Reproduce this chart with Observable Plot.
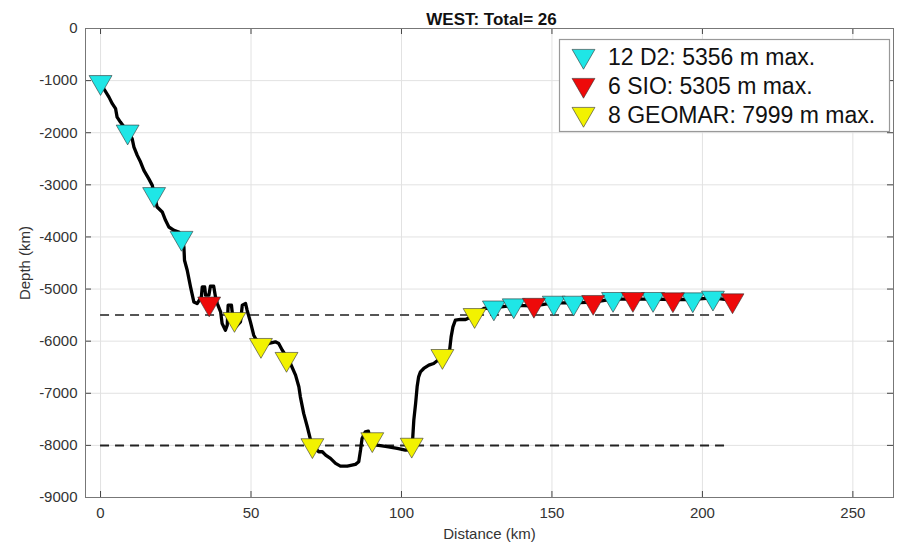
<!DOCTYPE html>
<html><head><meta charset="utf-8">
<script src="https://cdn.jsdelivr.net/npm/d3@7"></script>
<script src="https://cdn.jsdelivr.net/npm/@observablehq/plot@0.6"></script>
<style>body{margin:0;background:#fff;} #chart{width:897px;height:544px;}</style>
</head><body><div id="chart"></div>
<script>
// Bathymetry track (distance km, depth m)
const trackDist = [0,1.1,2.8,3.9,5.0,5.5,6.6,9.0,10.5,11.1,12.2,13.3,14.4,16.0,17.2,17.8,18.8,20.5,21.6,22.7,24.4,26.0,26.9,27.7,27.9,28.8,29.9,31.0,32.1,33.5,33.8,34.6,34.9,36.0,36.5,37.6,38.2,38.8,39.9,40.4,41.5,42.1,42.4,43.5,43.8,44.9,46.5,47.1,48.2,48.7,49.8,50.9,51.5,53.7,55.9,58.1,59.2,60.4,63.1,64.8,65.9,66.4,67.5,68.7,69.8,70.4,72.5,73.7,74.8,76.4,78.1,79.7,82.0,84.7,85.8,86.4,86.9,88.0,89.0,89.4,91.9,95.2,98.6,101.3,103.5,104.1,104.7,105.2,105.7,106.3,107.4,109.1,110.7,113.6,116.0,116.5,117.1,117.9,119.6,121.3,124.3,125.7,127.3,130.7,137.3,144.0,150.6,157.2,163.7,170.3,176.9,183.6,190.2,196.8,203.5,210.0];
const trackDepth = [-1000,-1156,-1317,-1443,-1539,-1700,-1796,-1980,-2114,-2275,-2435,-2563,-2722,-2881,-3010,-3180,-3426,-3521,-3681,-3809,-3872,-3905,-4018,-4192,-4447,-4639,-4959,-5247,-5278,-5151,-4959,-4959,-5118,-5118,-4946,-4946,-5151,-5278,-5438,-5661,-5789,-5693,-5310,-5310,-5469,-5726,-5630,-5310,-5278,-5406,-5630,-5885,-5949,-6109,-6044,-6013,-6044,-6173,-6428,-6652,-6876,-7068,-7386,-7643,-7898,-7999,-8122,-8122,-8186,-8249,-8345,-8397,-8397,-8364,-8314,-8090,-7866,-7739,-7725,-7850,-7994,-8026,-8057,-8090,-8080,-7515,-7195,-6876,-6685,-6589,-6524,-6460,-6428,-6300,-6173,-5918,-5726,-5598,-5584,-5584,-5501,-5439,-5373,-5356,-5315,-5321,-5264,-5264,-5250,-5193,-5193,-5193,-5200,-5200,-5168,-5219];

// Float deployments
const d2Dist = [0, 9.0, 17.8, 26.9, 130.7, 137.3, 150.6, 157.2, 170.3, 183.6, 196.8, 203.5];
const d2Depth = [-1030, -1980, -3180, -4020, -5356, -5315, -5264, -5264, -5193, -5193, -5200, -5168];
const sioDist = [36.1, 144.0, 163.7, 176.9, 190.2, 210.0];
const sioDepth = [-5280, -5305, -5250, -5193, -5200, -5219];
const geoDist = [44.5, 53.3, 61.8, 70.4, 90.3, 103.4, 113.6, 124.3];
const geoDepth = [-5577, -6075, -6343, -7999, -7884, -7990, -6287, -5501];

const refDepths = [-5500, -8000];
const refEnd = 209;

const xTicks = [0, 50, 100, 150, 200, 250];
const yTicks = [0, -1000, -2000, -3000, -4000, -5000, -6000, -7000, -8000, -9000];

const groupNames = ["12 D2: 5356 m max.", "6 SIO: 5305 m max.", "8 GEOMAR: 7999 m max."];
const groupColors = ["#1fe6e6", "#ee0a0a", "#f2f200"];
const titleText = "WEST: Total= 26";

const track = trackDist.map((d, i) => ({x: d, y: trackDepth[i]}));
const pts = [];
d2Dist.forEach((d, i) => pts.push({x: d, y: d2Depth[i], g: 0}));
sioDist.forEach((d, i) => pts.push({x: d, y: sioDepth[i], g: 1}));
geoDist.forEach((d, i) => pts.push({x: d, y: geoDepth[i], g: 2}));

const W = 897, H = 544, mL = 85, mR = 4, mT = 28, mB = 47;
const fw = W - mL - mR, fh = H - mT - mB;
const font = "'Liberation Sans', Arial, Helvetica, sans-serif";

const plot = Plot.plot({
  width: W, height: H,
  marginLeft: mL, marginRight: mR, marginTop: mT, marginBottom: mB,
  style: {fontFamily: font, fontSize: "15px", color: "#333", background: "#fff"},
  x: {domain: [-5, 263.5]},
  y: {domain: [-9000, 0]},
  marks: [
    Plot.gridX(xTicks, {stroke: "#e2e2e2", strokeOpacity: 1}),
    Plot.gridY(yTicks, {stroke: "#e2e2e2", strokeOpacity: 1}),
    Plot.axisX(xTicks, {tickSize: 0, tickPadding: 10, tickFormat: d => String(d),
      label: "Distance (km)", labelAnchor: "center", labelArrow: "none", labelOffset: 41, fill: "#333"}),
    Plot.axisY(yTicks, {tickSize: 0, tickPadding: 8, tickFormat: d => String(d),
      label: "Depth (km)", labelAnchor: "center", labelArrow: "none", labelOffset: 66, fill: "#333"}),
    Plot.ruleX(xTicks, {x: d => d, insetTop: fh - 6, stroke: "#444"}),
    Plot.ruleX(xTicks, {x: d => d, insetBottom: fh - 6, stroke: "#444"}),
    Plot.ruleY(yTicks, {y: d => d, insetRight: fw - 6, stroke: "#444"}),
    Plot.ruleY(yTicks, {y: d => d, insetLeft: fw - 6, stroke: "#444"}),
    Plot.frame({stroke: "#777"}),
    Plot.ruleY(refDepths, {y: d => d, x1: 0, x2: refEnd, stroke: d => d === -8000 ? "#222" : "#555",
      strokeWidth: 2, strokeDasharray: "9,6"}),
    Plot.line(track, {x: "x", y: "y", stroke: "#000", strokeWidth: 3.3, strokeLinejoin: "round"}),
    Plot.dot(pts, {x: "x", y: "y", symbol: "triangle", rotate: 180, r: 8.5,
      fill: d => groupColors[d.g], stroke: "#333", strokeWidth: 0.6, fillOpacity: 1}),
    Plot.text([titleText], {frameAnchor: "top", dy: -16, dx: 2, fontWeight: "bold", fontSize: 17, fill: "#111"})
  ]
});
document.getElementById("chart").appendChild(plot);

// Legend
const svg = d3.select(plot);
const lg = svg.append("g");
lg.append("rect").attr("x", 559.5).attr("y", 39.5).attr("width", 330).attr("height", 92)
  .attr("fill", "#fff").attr("stroke", "#999").attr("stroke-width", 1.2);
const sym = d3.symbol(d3.symbolTriangle, Math.PI * 8.5 * 8.5);
groupNames.forEach((name, i) => {
  const cy = 56 + i * 29;
  lg.append("path").attr("d", sym()).attr("transform", `translate(583.5,${cy}) rotate(180)`)
    .attr("fill", groupColors[i]).attr("stroke", "#333").attr("stroke-width", 0.6);
  lg.append("text").attr("x", 608).attr("y", 65 + i * 29).attr("font-family", font)
    .attr("text-anchor", "start").attr("font-size", 23).attr("fill", "#111").text(name);
});
</script>
</body></html>
